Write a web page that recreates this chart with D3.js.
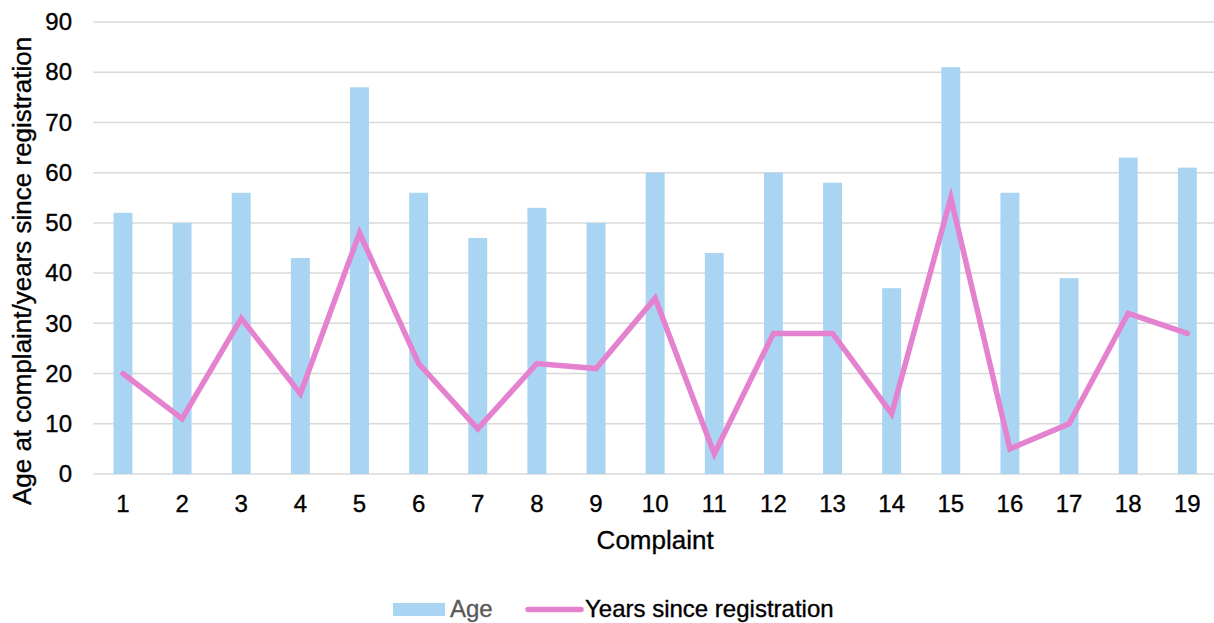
<!DOCTYPE html>
<html>
<head>
<meta charset="utf-8">
<script src="https://cdn.jsdelivr.net/npm/d3@7"></script>
<style>
  html, body { margin: 0; padding: 0; background: #fff; }
  svg { display: block; font-family: "Liberation Sans", Arial, sans-serif; }
  .lbl { stroke-width: 0.35px; paint-order: stroke; }
</style>
</head>
<body>
<svg id="chart" width="1214" height="623"></svg>
<script>
// Complaint numbers along the x axis
const complaints = ["1","2","3","4","5","6","7","8","9","10","11","12","13","14","15","16","17","18","19"];
// Age of the registrant at the time of each complaint
const ageValues = [52, 50, 56, 43, 77, 56, 47, 53, 50, 60, 44, 60, 58, 37, 81, 56, 39, 63, 61];
// Years elapsed since registration at the time of each complaint
const yearsValues = [20, 11, 31, 16, 48, 22, 9, 22, 21, 35, 4, 28, 28, 12, 55, 5, 10, 32, 28];
// Value axis ticks
const yTicks = [0, 10, 20, 30, 40, 50, 60, 70, 80, 90];

const svg = d3.select("#chart");
const plot = { left: 93.4, right: 1216.9, top: 22, bottom: 474 };

const x = d3.scaleBand()
  .domain(complaints)
  .range([plot.left, plot.right])
  .paddingInner(0.68)
  .paddingOuter(0.34);

const y = d3.scaleLinear()
  .domain([0, 90])
  .range([plot.bottom, plot.top]);

// Horizontal gridlines
svg.append("g")
  .selectAll("line")
  .data(yTicks)
  .join("line")
  .attr("x1", plot.left)
  .attr("x2", 1214)
  .attr("y1", d => y(d))
  .attr("y2", d => y(d))
  .attr("stroke", "#d9d9d9")
  .attr("stroke-width", 1.5);

// Age bars
svg.append("g")
  .selectAll("rect")
  .data(complaints)
  .join("rect")
  .attr("x", d => x(d))
  .attr("width", x.bandwidth())
  .attr("y", (d, i) => y(ageValues[i]))
  .attr("height", (d, i) => y(0) - y(ageValues[i]))
  .attr("fill", "#a9d4f2");

// Years since registration line
const line = d3.line()
  .x((d, i) => x(complaints[i]) + x.bandwidth() / 2)
  .y(d => y(d));

svg.append("path")
  .datum(yearsValues)
  .attr("d", line)
  .attr("fill", "none")
  .attr("stroke", "#e582d0")
  .attr("stroke-width", 5.5)
  .attr("stroke-linejoin", "miter")
  .attr("stroke-miterlimit", 10)
  .attr("stroke-linecap", "round");

// Y axis tick labels
const yAxis = d3.axisLeft(y).tickValues(yTicks).tickSize(0).tickPadding(0);
const gy = svg.append("g")
  .attr("transform", `translate(72,0)`)
  .call(yAxis);
gy.select(".domain").remove();
gy.selectAll("text")
  .attr("class", "lbl")
  .attr("font-size", 24)
  .attr("font-family", "Liberation Sans, Arial, sans-serif")
  .attr("fill", "#000")
  .attr("stroke", "#000");

// X axis tick labels
const xAxis = d3.axisBottom(x).tickSize(0).tickPadding(0);
const gx = svg.append("g")
  .attr("transform", `translate(0,${plot.bottom})`)
  .call(xAxis);
gx.select(".domain").remove();
gx.selectAll("text")
  .attr("class", "lbl")
  .attr("dy", null)
  .attr("y", 37.5)
  .attr("font-size", 24)
  .attr("font-family", "Liberation Sans, Arial, sans-serif")
  .attr("fill", "#000")
  .attr("stroke", "#000");

// Axis titles
svg.append("text")
  .attr("class", "lbl")
  .attr("x", (plot.left + plot.right) / 2)
  .attr("y", 548.5)
  .attr("text-anchor", "middle")
  .attr("font-size", 26)
  .attr("fill", "#000")
  .attr("stroke", "#000")
  .text("Complaint");

svg.append("text")
  .attr("class", "lbl")
  .attr("transform", "translate(31,271) rotate(-90)")
  .attr("text-anchor", "middle")
  .attr("font-size", 26)
  .attr("fill", "#000")
  .attr("stroke", "#000")
  .text("Age at complaint/years since registration");

// Legend
const legend = svg.append("g");
legend.append("rect")
  .attr("x", 393).attr("y", 603)
  .attr("width", 52).attr("height", 13)
  .attr("fill", "#a9d4f2");
legend.append("text")
  .attr("class", "lbl")
  .attr("x", 450).attr("y", 617)
  .attr("font-size", 24)
  .attr("fill", "#595959")
  .attr("stroke", "#595959")
  .text("Age");
legend.append("line")
  .attr("x1", 528).attr("x2", 581)
  .attr("y1", 609.5).attr("y2", 609.5)
  .attr("stroke", "#e582d0")
  .attr("stroke-width", 5.5)
  .attr("stroke-linecap", "round");
legend.append("text")
  .attr("class", "lbl")
  .attr("x", 585).attr("y", 617)
  .attr("font-size", 24)
  .attr("fill", "#000")
  .attr("stroke", "#000")
  .text("Years since registration");
</script>
</body>
</html>
